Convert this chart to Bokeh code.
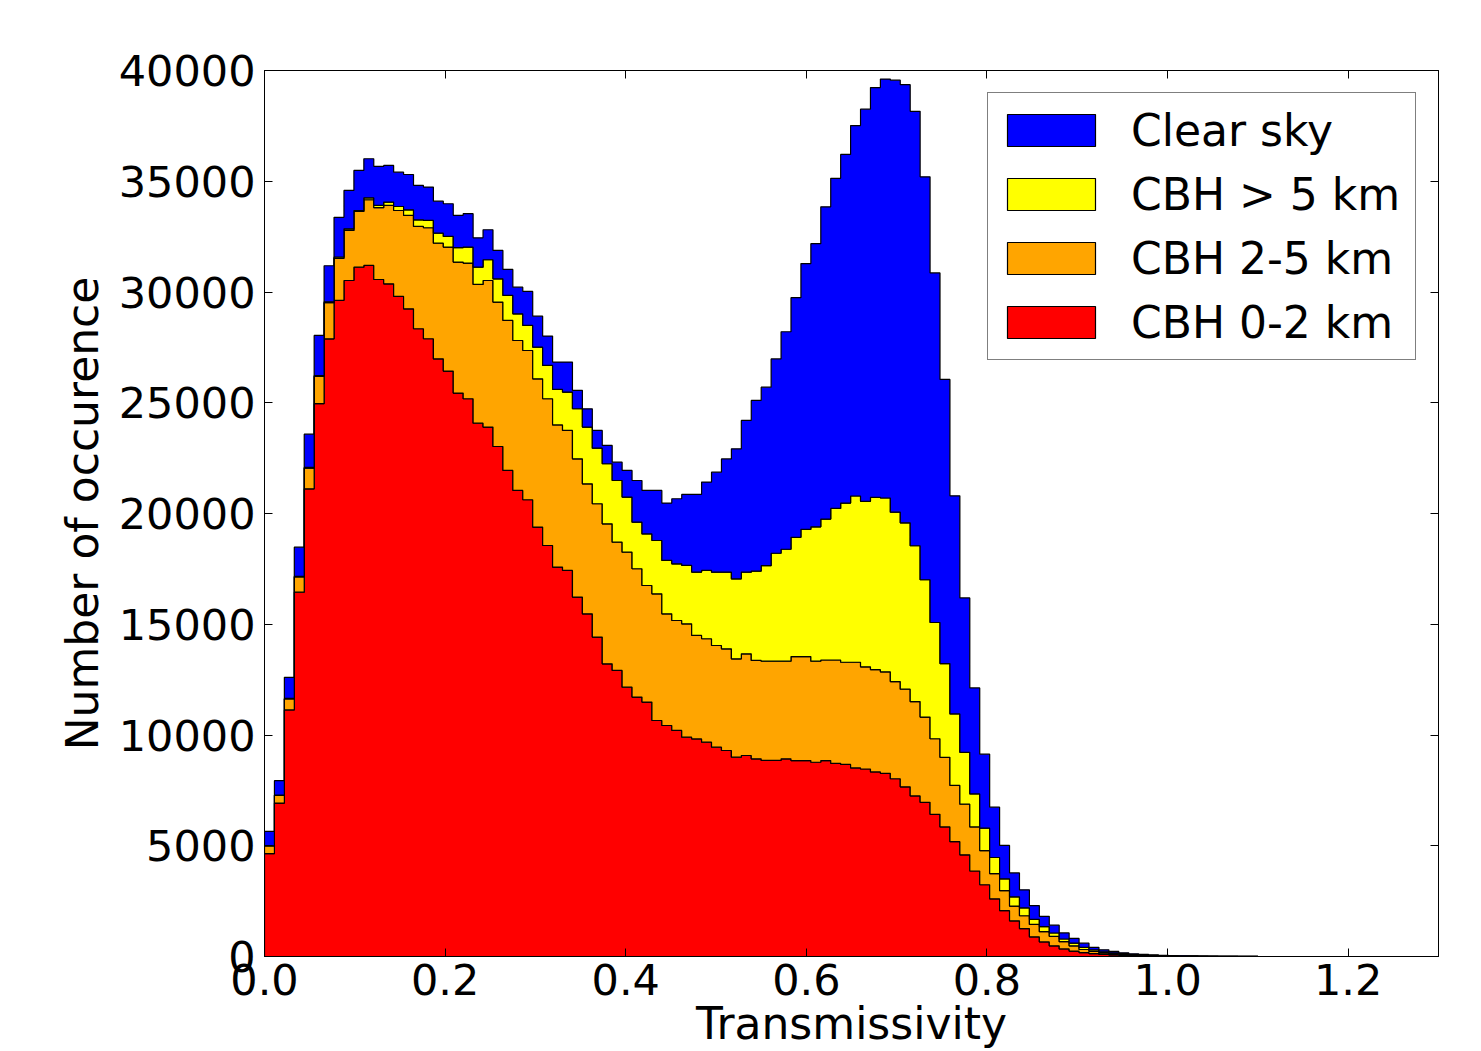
from bokeh.plotting import figure
from bokeh.models import (Range1d, LinearAxis, FixedTicker, NumeralTickFormatter,
                          CustomJSTickFormatter, Legend, LegendItem)
from bokeh.embed import file_html
from bokeh.resources import INLINE

# ---------------- data (100 bins of width 0.011 from 0.0 to 1.1) ----------------
n_bins = 100
bin_width = 0.011

cbh_0_2 = [4640, 6925, 11130, 16450, 21115, 24960, 27885, 29625, 30520, 31120,
           31200, 30565, 30370, 29800, 29240, 28340, 27890, 26985, 26430, 25435,
           25180, 24080, 23900, 23025, 21945, 21040, 20620, 19385, 18555, 17580,
           17430, 16225, 15470, 14420, 13215, 12915, 12160, 11710, 11485, 10655,
           10430, 10205, 9900, 9825, 9675, 9450, 9300, 9000, 9075, 8925,
           8850, 8850, 8925, 8845, 8845, 8770, 8845, 8720, 8670, 8515,
           8465, 8335, 8270, 8025, 7660, 7250, 6960, 6420, 5850, 5185,
           4590, 3860, 3240, 2605, 2070, 1610, 1260, 890, 660, 480,
           340, 245, 175, 130, 95, 70, 50, 38, 28, 21,
           16, 12, 9, 7, 5, 4, 3, 2, 1, 1]

cbh_2_5 = [350, 350, 500, 690, 935, 1230, 1630, 1895, 2260, 2515,
           2965, 3240, 3540, 3880, 4215, 4620, 5010, 5220, 5600, 5915,
           6125, 6260, 6620, 6520, 6770, 6770, 6740, 6695, 6625, 6420,
           6320, 6245, 5870, 6020, 6320, 5790, 6095, 5795, 5265, 5720,
           5040, 4965, 5120, 4670, 4670, 4590, 4590, 4440, 4590, 4440,
           4485, 4485, 4410, 4695, 4695, 4565, 4540, 4665, 4615, 4770,
           4615, 4615, 4580, 4385, 4410, 4260, 3850, 3410, 3140, 2540,
           2285, 1990, 1540, 1140, 900, 665, 580, 560, 460, 430,
           330, 235, 140, 95, 70, 50, 40, 30, 22, 17,
           13, 10, 8, 6, 5, 4, 3, 2, 1, 1]

cbh_gt_5 = [10, 15, 20, 20, 30, 40, 45, 60, 70, 45,
            85, 105, 150, 180, 255, 300, 330, 450, 480, 650,
            725, 780, 935, 1050, 1130, 1205, 1130, 1430, 1505, 1600,
            1730, 2260, 2560, 2510, 2710, 2785, 2485, 2105, 2330, 2405,
            2410, 2560, 2635, 2860, 3085, 3310, 3460, 3610, 3685, 4035,
            4310, 4870, 5050, 5385, 5745, 6065, 6365, 6845, 7185, 7505,
            7470, 7780, 7850, 7650, 7510, 7035, 6200, 5250, 4235, 3225,
            2345, 1490, 1015, 725, 535, 420, 355, 230, 230, 150,
            120, 120, 95, 70, 50, 40, 30, 22, 18, 14,
            11, 9, 7, 6, 5, 3, 2, 2, 1, 0]

clear_sky = [645, 650, 955, 1320, 1500, 1810, 1625, 1790, 1735, 1810,
             1765, 1760, 1655, 1550, 1595, 1550, 1505, 1445, 1475, 1460,
             1505, 1325, 1355, 1280, 1175, 1205, 1535, 1400, 1325, 1235,
             1355, 830, 825, 800, 830, 825, 1205, 1880, 1960, 2260,
             2590, 2935, 3205, 3505, 3990, 4515, 5115, 5870, 6850, 7705,
             8060, 8775, 9820, 10820, 12000, 12780, 14095, 14900, 15740, 16725,
             17705, 18500, 18915, 19505, 19780, 19610, 18190, 15780, 12830, 9850,
             6970, 4785, 3340, 2270, 1510, 1080, 815, 620, 465, 355,
             275, 215, 190, 120, 85, 70, 50, 35, 27, 20,
             15, 11, 9, 7, 5, 4, 3, 2, 2, 1]

series_labels = ["CBH 0-2 km", "CBH 2-5 km", "CBH > 5 km", "Clear sky"]
series_values = [cbh_0_2, cbh_2_5, cbh_gt_5, clear_sky]
series_colors = ["#ff0000", "#ffa500", "#ffff00", "#0000ff"]

x_ticks = [0.0, 0.2, 0.4, 0.6, 0.8, 1.0, 1.2]
y_ticks = [0, 5000, 10000, 15000, 20000, 25000, 30000, 35000, 40000]

FONT = "DejaVu Sans"

edges = [i * bin_width for i in range(n_bins + 1)]


def step_polygon(bottom, top):
    xs, ys = [], []
    for i in range(n_bins):
        xs += [edges[i], edges[i + 1]]
        ys += [top[i], top[i]]
    for i in reversed(range(n_bins)):
        xs += [edges[i + 1], edges[i]]
        ys += [bottom[i], bottom[i]]
    return xs, ys


p = figure(width=1481, height=1051,
           x_range=Range1d(0, 1.3), y_range=Range1d(0, 40000),
           output_backend="svg", toolbar_location=None,
           min_border_left=264, min_border_right=43,
           min_border_top=70, min_border_bottom=95)
p.background_fill_color = "white"
p.border_fill_color = "white"
p.outline_line_color = "black"
p.outline_line_width = 1
p.grid.visible = False

renderers = {}
bottom = [0] * n_bins
for label, vals, col in zip(series_labels, series_values, series_colors):
    top = [b + v for b, v in zip(bottom, vals)]
    xs, ys = step_polygon(bottom, top)
    r = p.patch(xs, ys, fill_color=col, line_color="black", line_width=1.2)
    renderers[label] = r
    bottom = top

# axes
for ax in (p.xaxis[0], p.yaxis[0]):
    ax.major_tick_in = 8
    ax.major_tick_out = 0
    ax.minor_tick_in = 0
    ax.minor_tick_out = 0
    ax.axis_line_color = "black"
    ax.major_tick_line_color = "black"
    ax.major_label_text_font = FONT
    ax.major_label_text_font_size = "43px"
    ax.major_label_text_color = "black"
    ax.axis_label_text_font = FONT
    ax.axis_label_text_font_size = "44px"
    ax.axis_label_text_font_style = "normal"
    ax.axis_label_text_color = "black"

p.xaxis[0].ticker = FixedTicker(ticks=x_ticks)
p.xaxis[0].formatter = NumeralTickFormatter(format="0.0")
p.xaxis[0].major_label_standoff = 7
p.xaxis[0].axis_label = "Transmissivity"
p.xaxis[0].axis_label_standoff = 0

p.yaxis[0].ticker = FixedTicker(ticks=y_ticks)
p.yaxis[0].formatter = NumeralTickFormatter(format="0")
p.yaxis[0].major_label_standoff = 9
p.yaxis[0].axis_label = "Number of occurence"
p.yaxis[0].axis_label_standoff = 8

blank = CustomJSTickFormatter(code="return ''")
top_axis = LinearAxis(ticker=FixedTicker(ticks=x_ticks), formatter=blank,
                      major_tick_in=8, major_tick_out=0, minor_tick_in=0, minor_tick_out=0,
                      axis_line_color="black", major_label_standoff=0)
right_axis = LinearAxis(ticker=FixedTicker(ticks=y_ticks), formatter=blank,
                        major_tick_in=8, major_tick_out=0, minor_tick_in=0, minor_tick_out=0,
                        axis_line_color="black", major_label_standoff=0)
p.add_layout(top_axis, "above")
p.add_layout(right_axis, "right")

legend_order = ["Clear sky", "CBH > 5 km", "CBH 2-5 km", "CBH 0-2 km"]
legend = Legend(items=[LegendItem(label=l, renderers=[renderers[l]]) for l in legend_order],
                location="top_right")
legend.margin = 22
legend.padding = 8
legend.spacing = 6
legend.glyph_width = 110
legend.glyph_height = 40
legend.label_height = 58
legend.label_standoff = 25
legend.label_width = 276
legend.label_text_font = FONT
legend.label_text_font_size = "44px"
legend.label_text_color = "black"
legend.border_line_color = "black"
legend.border_line_width = 1
legend.background_fill_color = "white"
legend.background_fill_alpha = 1
p.add_layout(legend)

open("out.html", "w").write(file_html(p, INLINE))
